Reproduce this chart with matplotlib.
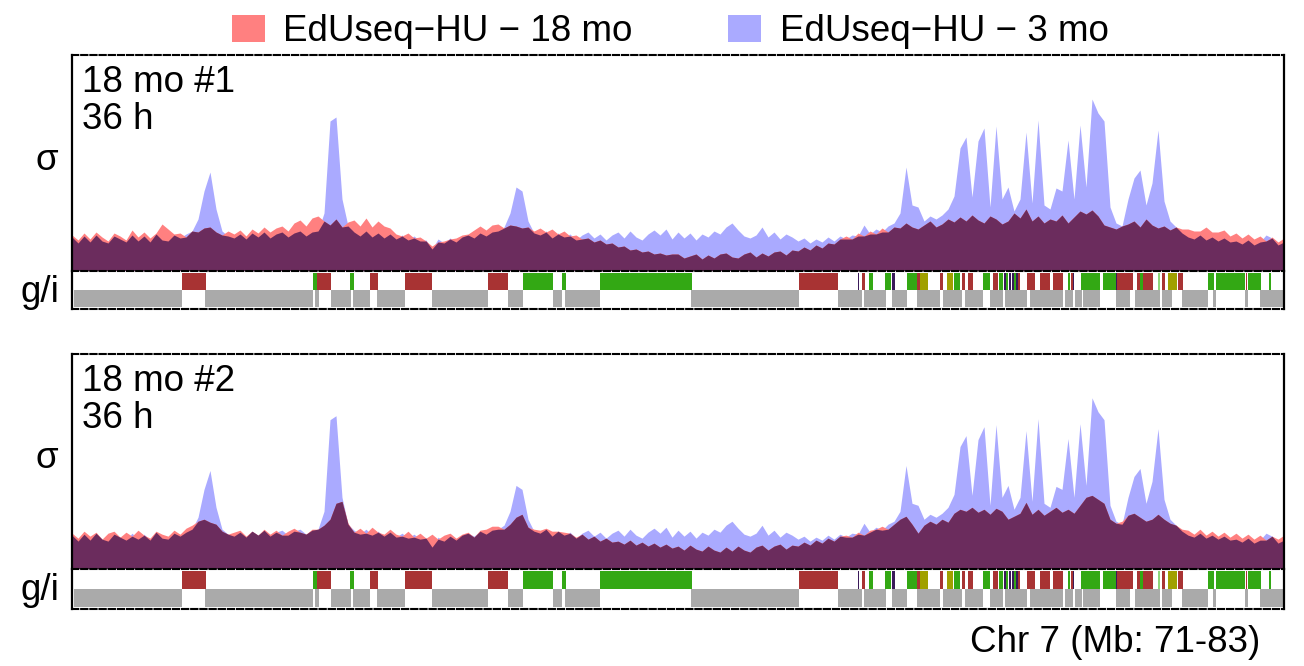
import numpy as np
import matplotlib.pyplot as plt
from matplotlib.patches import Patch

plt.rcParams['font.family'] = ['Liberation Sans', 'DejaVu Sans']

W, H = 1304, 666

# EdUseq-HU signal along chr7 71-83 Mb, 203 equal bins (arbitrary sigma units)
edu_3mo = [
    34, 28, 35, 29, 36, 30, 28, 35, 32, 29, 36, 30, 35, 29, 37, 31, 30, 36,
    33, 37, 40, 52, 80, 99, 62, 40, 35,
    33, 37, 32, 38, 34, 39, 33, 37, 39, 34, 38, 40, 35, 39,
    40, 58, 150, 154, 72, 45,
    39, 35, 40, 34, 38, 33, 37, 32, 36, 31, 35, 30, 31, 22, 32, 28, 33, 29, 34, 36, 33, 38, 35, 39,
    40, 44, 58, 84, 80, 50, 38,
    36, 40, 33, 38, 34, 37, 31, 36, 39, 33, 37, 31, 36, 39, 33, 40, 34, 31, 37, 41, 36, 42, 32,
    39, 33, 38, 31, 37, 34, 40, 37, 44, 48, 41, 35, 33, 36, 44, 34, 39, 32, 37, 34,
    30, 33, 28, 32, 29, 34, 30, 35, 32, 36, 35, 46, 37, 42, 39, 45, 48, 58,
    104, 66, 64, 50, 55, 52, 56, 62, 75, 123, 134, 74, 130, 143, 64, 145, 72, 84, 60, 72,
    139, 68, 151, 66, 62, 83, 80, 131, 72, 146, 84, 172, 158, 150, 64, 48, 45, 72, 93, 101,
    66, 88, 141, 70, 50, 44, 38,
    34, 32, 36, 31, 34, 30, 33, 29, 30, 27, 31, 26, 29, 36, 33, 26, 29,
]
edu_18mo_1 = [
    36, 31, 38, 32, 39, 34, 30, 38, 35, 31, 41, 34, 39, 33, 38, 47, 42, 37,
    38, 34, 40, 39, 43, 44, 39, 36, 40,
    37, 41, 35, 42, 38, 44, 39, 43, 45, 40, 48, 51, 45, 53,
    55, 50, 46, 52, 44, 49,
    51, 45, 53, 44, 50, 45, 43, 37, 35, 38, 33, 34, 30, 25, 29, 30, 32, 33, 36, 37, 41, 45, 41, 46,
    47, 43, 46, 45, 43, 44, 40,
    43, 39, 42, 37, 40, 35, 36, 32, 33, 29, 31, 27, 28, 24, 25, 21, 22, 19, 20, 17, 18, 16, 17,
    17, 13, 15, 17, 12, 16, 13, 17, 18, 14, 13, 17, 19, 14, 18, 15, 19, 20, 16, 21,
    20, 24, 21, 26, 23, 28, 27, 32, 35, 32, 38, 35, 40, 37, 43, 39, 44, 43,
    48, 44, 42, 46, 50, 44, 47, 52, 49, 54, 50, 56, 51, 48, 55, 52, 47, 50, 58, 53,
    62, 50, 55, 48, 52, 50, 56, 48, 54, 60, 57, 61, 55, 46, 44, 42, 45, 47, 50, 44,
    52, 46, 43, 45, 41, 44, 42,
    42, 40, 40, 44, 39, 39, 41, 35, 38, 33, 37, 32, 35, 30, 34, 29, 33,
]
edu_18mo_2 = [
    36, 31, 38, 33, 37, 30, 36, 38, 32, 37, 33, 39, 34, 31, 38, 35, 33, 39,
    35, 41, 44, 48, 50, 47, 45, 38, 35,
    37, 39, 33, 38, 34, 40, 35, 39, 34, 38, 41, 37, 35, 40,
    40, 44, 50, 66, 68, 46,
    37, 41, 36, 42, 37, 35, 40, 35, 33, 38, 32, 36, 31, 35, 30, 34, 36, 31, 35, 37, 32, 39, 40, 43,
    43, 40, 45, 52, 55, 42, 40,
    39, 41, 38, 38, 37, 36, 32, 35, 30, 33, 28, 31, 27, 28, 25, 29, 24, 27, 23, 26, 22, 25, 21,
    23, 19, 24, 20, 18, 23, 19, 17, 22, 18, 23, 19, 17, 22, 24, 19, 23, 25, 20, 24,
    23, 27, 24, 29, 26, 31, 28, 33, 34, 32, 37, 34, 39, 40, 43, 40, 45, 50,
    53, 45, 36, 44, 48, 45, 50, 47, 56, 60, 58, 62, 57, 60, 55, 61, 58, 50, 53, 56,
    67, 55, 60, 54, 58, 62, 57, 60, 56, 64, 72, 74, 70, 66, 50, 46, 48, 54, 56, 52,
    48, 50, 55, 50, 46, 44, 40,
    39, 35, 40, 34, 38, 33, 37, 32, 36, 31, 35, 30, 34, 29, 33, 30, 34,
]
pos_mb = np.linspace(71, 83, len(edu_3mo))

# gene track, upper row: (start Mb, end Mb, class)
gene_blocks = [
    (72.09, 72.33, 'r'), (73.39, 73.43, 'g'), (73.43, 73.56, 'r'), (73.75, 73.79, 'g'),
    (73.95, 74.03, 'r'), (74.30, 74.56, 'r'), (75.12, 75.32, 'r'), (75.47, 75.76, 'g'),
    (75.85, 75.89, 'g'), (76.23, 77.14, 'g'), (78.20, 78.58, 'r'), (78.78, 78.79, 'k'),
    (78.82, 78.85, 'r'), (78.89, 78.93, 'g'), (79.05, 79.11, 'g'), (79.12, 79.15, 'k'),
    (79.27, 79.37, 'g'), (79.37, 79.40, 'r'), (79.40, 79.48, 'y'), (79.59, 79.62, 'r'),
    (79.66, 79.72, 'y'), (79.73, 79.79, 'g'), (79.81, 79.84, 'r'), (79.87, 79.92, 'r'),
    (80.02, 80.09, 'g'), (80.12, 80.17, 'r'), (80.18, 80.22, 'g'), (80.23, 80.25, 'k'),
    (80.25, 80.27, 'g'), (80.28, 80.30, 'k'), (80.31, 80.33, 'k'), (80.33, 80.35, 'g'),
    (80.35, 80.37, 'k'), (80.37, 80.39, 'r'), (80.46, 80.53, 'r'), (80.58, 80.68, 'r'),
    (80.71, 80.81, 'r'), (80.86, 80.88, 'g'), (80.89, 80.91, 'r'), (80.91, 80.92, 'k'),
    (80.99, 81.18, 'g'), (81.21, 81.34, 'g'), (81.34, 81.35, 'k'), (81.35, 81.50, 'r'),
    (81.54, 81.57, 'r'), (81.57, 81.60, 'g'), (81.60, 81.70, 'r'), (81.75, 81.77, 'lg'),
    (81.79, 81.82, 'r'), (81.85, 81.94, 'y'), (81.95, 82.00, 'r'), (82.25, 82.31, 'g'),
    (82.33, 82.61, 'g'), (82.62, 82.63, 'r'), (82.64, 82.77, 'g'), (82.85, 82.87, 'g'),
]
# gene track, lower row (grey stretches)
grey_blocks = [
    (71.02, 72.09), (72.32, 73.39), (73.41, 73.45), (73.56, 73.76), (73.78, 73.95),
    (74.02, 74.30), (74.56, 75.12), (75.32, 75.47), (75.76, 75.85), (75.88, 76.23),
    (77.13, 78.20), (78.58, 78.82), (78.84, 79.06), (79.12, 79.27), (79.37, 79.59),
    (79.62, 79.81), (79.84, 80.02), (80.09, 80.22), (80.24, 80.46), (80.49, 80.81),
    (80.83, 80.91), (80.93, 81.00), (81.01, 81.18), (81.34, 81.48), (81.52, 81.77),
    (81.79, 81.89), (81.99, 82.25), (82.30, 82.33), (82.61, 82.64), (82.76, 83.00),
]

C_18MO = '#ff8080'
C_3MO = '#aaaaff'
C_BOTH = '#6b2c5d'
gene_colors = {'r': '#a83333', 'g': '#33a814', 'y': '#a0a000', 'k': '#3a1a5a', 'lg': '#8fd67a'}


def rect(left, top, width, height):
    return [left / W, 1 - (top + height) / H, width / W, height / H]


def style_frame(ax, top_dashed=True, bottom_dashed=True):
    ax.set_xticks([])
    ax.set_yticks([])
    for side in ('left', 'right'):
        ax.spines[side].set_linewidth(1.6)
        ax.spines[side].set_color('black')
    for side, show in (('top', top_dashed), ('bottom', bottom_dashed)):
        sp = ax.spines[side]
        sp.set_visible(show)
        sp.set_linewidth(1.5)
        sp.set_linestyle((0, (3.0, 1.4)))
        sp.set_color('black')


fig = plt.figure(figsize=(W / 100, H / 100), dpi=100)

panels = [
    (edu_18mo_1, '18 mo #1\n36 h', 55, 216, 38),
    (edu_18mo_2, '18 mo #2\n36 h', 354, 215, 40),
]

for red, label, top, sig_h, trk_h in panels:
    ax = fig.add_axes(rect(72, top, 1212, sig_h))
    blue = np.array(edu_3mo)
    red = np.array(red)
    ax.fill_between(pos_mb, 0, blue, color=C_3MO, lw=0)
    ax.fill_between(pos_mb, 0, red, color=C_18MO, lw=0)
    ax.fill_between(pos_mb, 0, np.minimum(red, blue), color=C_BOTH, lw=0)
    ax.set_xlim(71, 83)
    ax.set_ylim(0, 216)
    style_frame(ax, top_dashed=True, bottom_dashed=False)
    ax.text(0.008, 0.955, label, transform=ax.transAxes, ha='left', va='top',
            fontsize=26.5, linespacing=1.08)

    gax = fig.add_axes(rect(72, top + sig_h, 1212, trk_h))
    gax.set_xlim(71, 83)
    gax.set_ylim(0, 1)
    for s, e, k in gene_blocks:
        gax.broken_barh([(s, e - s)], (0.5, 0.45), facecolor=gene_colors[k], lw=0)
    for s, e in grey_blocks:
        gax.broken_barh([(s, e - s)], (0.05, 0.45), facecolor='#aaaaaa', lw=0)
    style_frame(gax, top_dashed=True, bottom_dashed=True)

    fig.text(47 / W, 1 - (top + 105) / H, 'σ', ha='center', va='center', fontsize=26.5)
    fig.text(40 / W, 1 - (top + sig_h + trk_h / 2 + 2) / H, 'g/i', ha='center', va='center',
             fontsize=26.5)

fig.text(1260 / W, 1 - 643 / H, 'Chr 7 (Mb: 71-83)', ha='right', va='center', fontsize=26.5)

handles = [Patch(facecolor=C_18MO), Patch(facecolor=C_3MO)]
fig.legend(handles, ['EdUseq−HU − 18 mo', 'EdUseq−HU − 3 mo'], loc='upper center',
           bbox_to_anchor=(0.514, 1.012), ncol=2, frameon=False, fontsize=26.5,
           handlelength=0.9, handleheight=0.75, handletextpad=0.5, columnspacing=2.6,
           borderaxespad=0.2)

fig.savefig('out.png', dpi=100)
